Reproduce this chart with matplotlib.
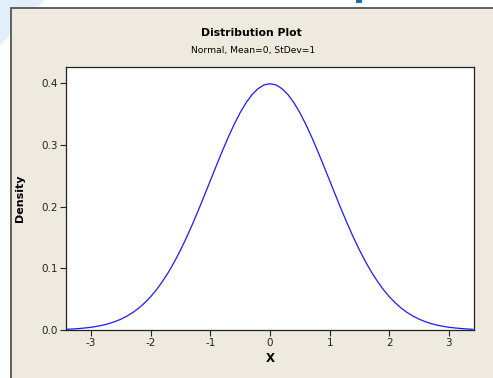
import numpy as np
import matplotlib.pyplot as plt
from matplotlib.patches import Rectangle, Polygon

# values (normal density, mean 0, sd 1), every 0.1
x_vals = [-3.4, -3.3, -3.2, -3.1, -3.0, -2.9, -2.8, -2.7, -2.6, -2.5, -2.4, -2.3,
          -2.2, -2.1, -2.0, -1.9, -1.8, -1.7, -1.6, -1.5, -1.4, -1.3, -1.2, -1.1,
          -1.0, -0.9, -0.8, -0.7, -0.6, -0.5, -0.4, -0.3, -0.2, -0.1, 0.0,
          0.1, 0.2, 0.3, 0.4, 0.5, 0.6, 0.7, 0.8, 0.9, 1.0, 1.1, 1.2,
          1.3, 1.4, 1.5, 1.6, 1.7, 1.8, 1.9, 2.0, 2.1, 2.2, 2.3, 2.4,
          2.5, 2.6, 2.7, 2.8, 2.9, 3.0, 3.1, 3.2, 3.3, 3.4]
density = [0.0012, 0.0017, 0.0024, 0.0033, 0.0044, 0.0060, 0.0079, 0.0104, 0.0136,
           0.0175, 0.0224, 0.0283, 0.0355, 0.0440, 0.0540, 0.0656, 0.0790, 0.0940,
           0.1109, 0.1295, 0.1497, 0.1714, 0.1942, 0.2179, 0.2420, 0.2661, 0.2897,
           0.3123, 0.3332, 0.3521, 0.3683, 0.3814, 0.3910, 0.3970, 0.3989,
           0.3970, 0.3910, 0.3814, 0.3683, 0.3521, 0.3332, 0.3123, 0.2897, 0.2661,
           0.2420, 0.2179, 0.1942, 0.1714, 0.1497, 0.1295, 0.1109, 0.0940, 0.0790,
           0.0656, 0.0540, 0.0440, 0.0355, 0.0283, 0.0224, 0.0175, 0.0136, 0.0104,
           0.0079, 0.0060, 0.0044, 0.0033, 0.0024, 0.0017, 0.0012]
xticks = [-3, -2, -1, 0, 1, 2, 3]
yticks = [0.0, 0.1, 0.2, 0.3, 0.4]

W, H = 493, 378
fig = plt.figure(figsize=(W / 100, H / 100), dpi=100)
fig.patch.set_facecolor('white')

# slide background bits and the beige minitab panel (behind the axes)
fig.patches.append(Polygon([(0, 1), (45 / W, 1), (0, 1 - 45 / H)], closed=True, zorder=-2,
                           transform=fig.transFigure, facecolor='#e2eef9', edgecolor='none'))
fig.patches.append(Rectangle((356 / W, 1 - 3 / H), 6 / W, 3 / H, transform=fig.transFigure,
                             facecolor='#1b6fb5', edgecolor='none', zorder=-2))
fig.patches.append(Rectangle((10.5 / W, -0.01), 1.0, 1 - 7.5 / H + 0.01, transform=fig.transFigure,
                             facecolor='#eeeae0', edgecolor='#555555', linewidth=1.3, zorder=-1))

ax = fig.add_axes([66 / W, 1 - 330 / H, (474 - 66) / W, (330 - 67) / H])
ax.set_facecolor('white')
ax.plot(x_vals, density, color='#1a1aff', linewidth=0.9)
ax.set_xlim(-3.42, 3.42)
ax.set_ylim(0, 0.426)
ax.set_xticks(xticks)
ax.set_yticks(yticks)
ax.set_xticklabels([str(t) for t in xticks])
ax.set_yticklabels(['%.1f' % t for t in yticks])
ax.tick_params(direction='out', length=4, width=0.8, labelsize=7.5, colors='#222222', pad=2)
for s in ax.spines.values():
    s.set_color('#222222')
    s.set_linewidth(0.9)

ax.set_xlabel('X', fontsize=8.5, fontweight='bold', labelpad=3)
ax.set_ylabel('Density', fontsize=8, fontweight='bold', labelpad=12)

fig.text(251 / W, 1 - 33 / H, 'Distribution Plot', ha='center', va='center',
         fontsize=7.8, fontweight='bold')
fig.text(253 / W, 1 - 50 / H, 'Normal, Mean=0, StDev=1', ha='center', va='center',
         fontsize=6.6)

fig.savefig('out.png', dpi=100)
